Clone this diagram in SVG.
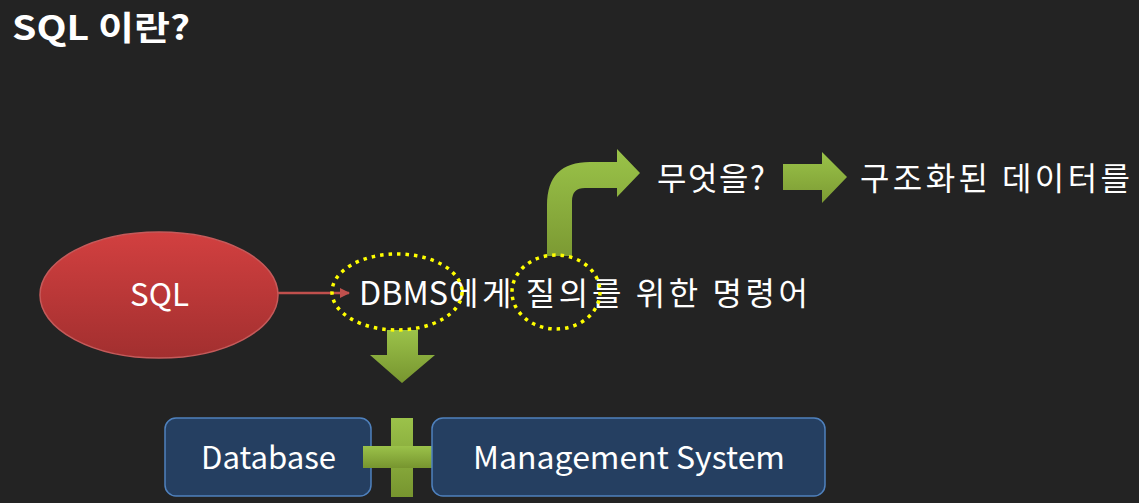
<svg xmlns="http://www.w3.org/2000/svg" width="1139" height="503" viewBox="0 0 1139 503">
<defs>
<linearGradient id="red" x1="0" y1="0" x2="0" y2="1"><stop offset="0" stop-color="#d24040"/><stop offset="1" stop-color="#a22f2f"/></linearGradient>
<linearGradient id="grn" x1="0" y1="0" x2="0" y2="1"><stop offset="0" stop-color="#9bc24a"/><stop offset="1" stop-color="#77952f"/></linearGradient>
<linearGradient id="grnh" x1="0" y1="0" x2="0" y2="1"><stop offset="0" stop-color="#9ac349"/><stop offset="1" stop-color="#7c9a33"/></linearGradient>
<marker id="ah" markerWidth="10" markerHeight="10" refX="9" refY="5" orient="auto" markerUnits="userSpaceOnUse"><path d="M0,0 L10,5 L0,10 Z" fill="#c0504d"/></marker>
<style>
text{font-family:"Noto Sans CJK KR","Noto Sans",sans-serif;fill:#ffffff}
.t{font-size:31px}
.k{font-size:32px}
.dot{fill:none;stroke:#ffff00;stroke-width:3.5;stroke-dasharray:3.5 5}
.box{fill:#253f61;stroke:#4f81bd;stroke-width:1.5}
.g{fill:url(#grn)}
</style>
</defs>
<rect width="1139" height="503" fill="#232323"/>
<text x="12" y="40" style="font-size:33px;font-weight:bold" textLength="178" lengthAdjust="spacingAndGlyphs">SQL 이란?</text>
<g id="sql">
<ellipse cx="159" cy="295" rx="119" ry="63" fill="url(#red)" stroke="#c55a5a" stroke-width="1.5"/>
<text x="130" y="306" class="t" textLength="59" lengthAdjust="spacingAndGlyphs">SQL</text>
</g>
<g id="connectors">
<line x1="278" y1="293" x2="349" y2="293" stroke="#c0504d" stroke-width="2.5" marker-end="url(#ah)"/>
<path class="g" d="M387,330 L418,330 L418,355 L435,355 L402,383 L370,355 L387,355 Z"/>
<path fill="url(#grnh)" d="M547,256 L547,205 Q547,162 590,162 L617,162 L617,149 L640,173 L617,197 L617,188 L585,188 Q572,188 572,201 L572,256 Z"/>
<path fill="url(#grnh)" d="M783,164 L822,164 L822,152 L847,177 L822,203 L822,190 L783,190 Z"/>
</g>
<g id="query">
<text y="305" class="k"><tspan x="359" textLength="89" lengthAdjust="spacingAndGlyphs">DBMS</tspan><tspan x="449" textLength="359" lengthAdjust="spacing">에게 질의를 위한 명령어</tspan></text>
<ellipse class="dot" cx="397" cy="292" rx="65" ry="38"/>
<ellipse class="dot" cx="556" cy="292" rx="44" ry="37"/>
</g>
<g id="what"><text x="657" y="190" class="k" textLength="108" lengthAdjust="spacing">무엇을?</text></g>
<g id="data"><text x="860" y="190" class="k" textLength="270" lengthAdjust="spacing">구조화된 데이터를</text></g>
<g id="database">
<rect class="box" x="165" y="418" width="206" height="78" rx="11"/>
<text x="201" y="469" class="t" textLength="135" lengthAdjust="spacingAndGlyphs">Database</text>
</g>
<g id="plus">
<rect class="g" x="391" y="418" width="22" height="79"/>
<rect class="g" x="363" y="446" width="78" height="22"/>
</g>
<g id="mgmt">
<rect class="box" x="432" y="418" width="393" height="78" rx="11"/>
<text x="473" y="469" class="t" textLength="312" lengthAdjust="spacingAndGlyphs">Management System</text>
</g>
</svg>
